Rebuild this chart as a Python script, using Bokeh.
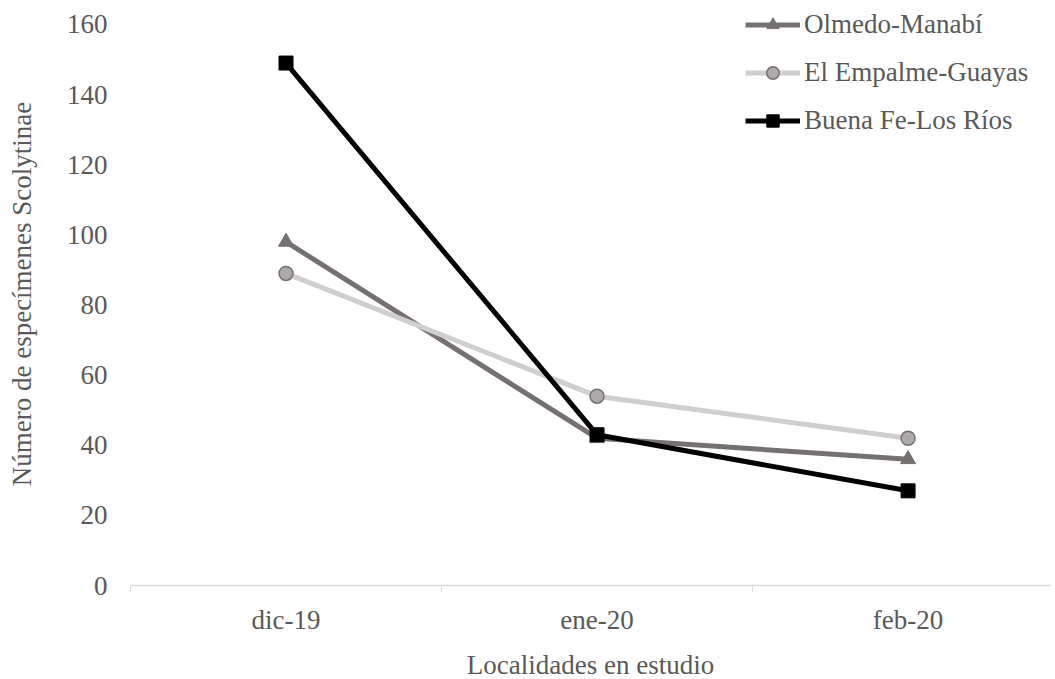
from bokeh.plotting import figure
from bokeh.models import Range1d, FixedTicker, Legend, LegendItem
from bokeh.embed import file_html
from bokeh.resources import INLINE

categories = ["dic-19", "ene-20", "feb-20"]
olmedo = [98, 42, 36]
empalme = [89, 54, 42]
buenafe = [149, 43, 27]
y_ticks = [0, 20, 40, 60, 80, 100, 120, 140, 160]

xs = list(range(len(categories)))
FONT = "Liberation Serif"
FS = "27px"
TXT = "#595959"

p = figure(frame_width=920, frame_height=583, output_backend="svg", toolbar_location=None,
           x_range=Range1d(-0.5, 2.458), y_range=Range1d(0, 166.27),
           min_border_left=130, min_border_right=0, min_border_top=2, min_border_bottom=0)
p.outline_line_color = None
p.xgrid.visible = False
p.ygrid.visible = False

r1 = p.line(xs, olmedo, line_color="#767171", line_width=5)
m1 = p.scatter(xs, olmedo, marker="triangle", size=15, fill_color="#767171", line_color="#767171")
r2 = p.line(xs, empalme, line_color="#d0cece", line_width=5)
m2 = p.scatter(xs, empalme, marker="circle", size=14, fill_color="#aeaaaa", line_color="#767171", line_width=1.5)
r3 = p.line(xs, buenafe, line_color="#000000", line_width=5)
m3 = p.scatter(xs, buenafe, marker="square", size=14, fill_color="#000000", line_color="#000000")

# x axis
xa = p.xaxis[0]
xa.ticker = FixedTicker(ticks=xs, minor_ticks=[i - 0.5 for i in range(len(categories) + 1)])
xa.major_label_overrides = {i: c for i, c in enumerate(categories)}
xa.major_tick_line_color = None
xa.minor_tick_line_color = "#d9d9d9"
xa.minor_tick_out = 7
xa.minor_tick_in = 0
xa.axis_line_color = "#d9d9d9"
xa.axis_line_width = 1.5
xa.major_label_standoff = 12
xa.major_label_text_font = FONT
xa.major_label_text_font_size = FS
xa.major_label_text_color = TXT
xa.axis_label = "Localidades en estudio"
xa.axis_label_text_font = FONT
xa.axis_label_text_font_size = FS
xa.axis_label_text_font_style = "normal"
xa.axis_label_text_color = TXT
xa.axis_label_standoff = 12

ya = p.yaxis[0]
ya.ticker = FixedTicker(ticks=y_ticks)
ya.axis_line_color = None
ya.major_tick_line_color = None
ya.minor_tick_line_color = None
ya.major_label_standoff = 17
ya.major_label_text_font = FONT
ya.major_label_text_font_size = FS
ya.major_label_text_color = TXT
ya.axis_label = "Número de especímenes Scolytinae"
ya.axis_label_text_font = FONT
ya.axis_label_text_font_size = FS
ya.axis_label_text_font_style = "normal"
ya.axis_label_text_color = TXT
ya.axis_label_standoff = 27

legend = Legend(items=[
    LegendItem(label="Olmedo-Manabí", renderers=[r1, m1]),
    LegendItem(label="El Empalme-Guayas", renderers=[r2, m2]),
    LegendItem(label="Buena Fe-Los Ríos", renderers=[r3, m3]),
], location=(615, 449))
legend.border_line_color = None
legend.background_fill_alpha = 0
legend.padding = 0
legend.margin = 0
legend.spacing = 17
legend.glyph_width = 55
legend.glyph_height = 31
legend.label_height = 31
legend.label_standoff = 4
legend.label_text_font = FONT
legend.label_text_font_size = FS
legend.label_text_color = TXT
p.add_layout(legend)

open("out.html", "w").write(file_html(p, INLINE))
